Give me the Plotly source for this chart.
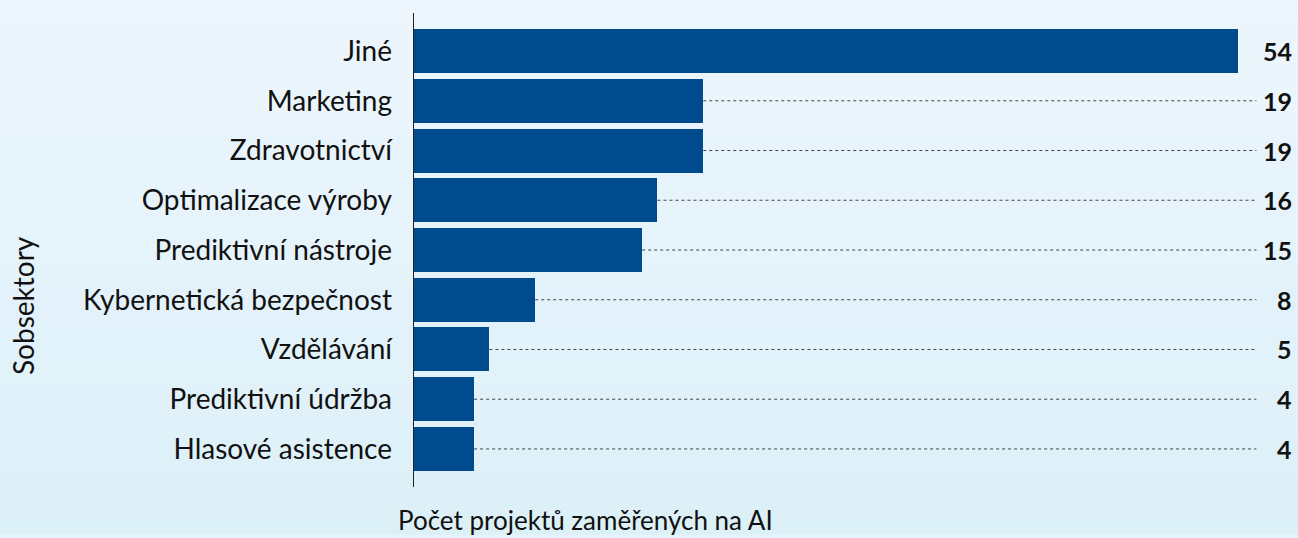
import plotly.graph_objects as go

categories = ["Jiné", "Marketing", "Zdravotnictví", "Optimalizace výroby",
              "Prediktivní nástroje", "Kybernetická bezpečnost", "Vzdělávání",
              "Prediktivní údržba", "Hlasové asistence"]
values = [54, 19, 19, 16, 15, 8, 5, 4, 4]
x_title = "Počet projektů zaměřených na AI"
y_title = "Sobsektory"

BAR = "#004b8d"
FONT = "Lato"
XMAX = 57.66
LINE_END = 55.2

fig = go.Figure(go.Bar(
    x=values, y=categories, orientation="h",
    marker=dict(color=BAR, line=dict(width=0)),
    width=0.885, hoverinfo="skip",
))

shapes = []
# gradient background
n = 30
top = (238, 246, 253)
bot = (220, 240, 248)
for i in range(n):
    t = i / (n - 1)
    c = tuple(round(top[k] + (bot[k] - top[k]) * t) for k in range(3))
    shapes.append(dict(type="rect", xref="paper", yref="paper",
                       x0=-1, x1=2, y0=1 - (i + 1) / n * 1.2 - 0.001 + 0.1,
                       y1=1 - i / n * 1.2 + 0.1 + 0.001,
                       fillcolor="rgb(%d,%d,%d)" % c, line=dict(width=0), layer="below"))

annotations = []
vmax = max(values)
for cat, v in zip(categories, values):
    if v < vmax:
        shapes.append(dict(type="line", xref="x", yref="y", x0=v, x1=LINE_END, y0=cat, y1=cat,
                           line=dict(color="#444444", width=1, dash="dot"), layer="below"))
    annotations.append(dict(x=XMAX, y=cat, xref="x", yref="y", text="<b>%d</b>" % v,
                            showarrow=False, xanchor="right", yanchor="middle",
                            font=dict(family=FONT, size=25, color="#111111")))

annotations.append(dict(x=(585 - 413) / (1294 - 413), y=0.0, xref="paper", yref="paper",
                        yshift=-33, text=x_title, showarrow=False, xanchor="center",
                        yanchor="middle", font=dict(family=FONT, size=26, color="#111111")))
annotations.append(dict(x=(23 - 413) / (1294 - 413), y=(487 - 306) / (487 - 13), xref="paper",
                        yref="paper", text=y_title, showarrow=False, textangle=-90,
                        xanchor="center", yanchor="middle",
                        font=dict(family=FONT, size=28, color="#111111")))

fig.update_layout(
    width=1298, height=538,
    margin=dict(l=413, r=4, t=13, b=51),
    paper_bgcolor="#e6f3fb", plot_bgcolor="rgba(0,0,0,0)",
    showlegend=False, bargap=0,
    shapes=shapes, annotations=annotations,
    xaxis=dict(range=[0, XMAX], visible=False, fixedrange=True),
    yaxis=dict(categoryorder="array", categoryarray=categories, autorange=False,
               range=[8.765, -0.765], showgrid=False, zeroline=False,
               showline=False, ticks="", ticklabelstandoff=20, fixedrange=True,
               tickfont=dict(family=FONT, size=28, color="#111111")),
)
fig.add_shape(type="line", xref="x", yref="paper", x0=0, x1=0, y0=0, y1=1,
              line=dict(color="#222222", width=2), layer="above")

fig.write_html("out.html", config={"displayModeBar": False},
               post_script="document.body.style.margin='0';document.body.style.overflow='hidden';")
